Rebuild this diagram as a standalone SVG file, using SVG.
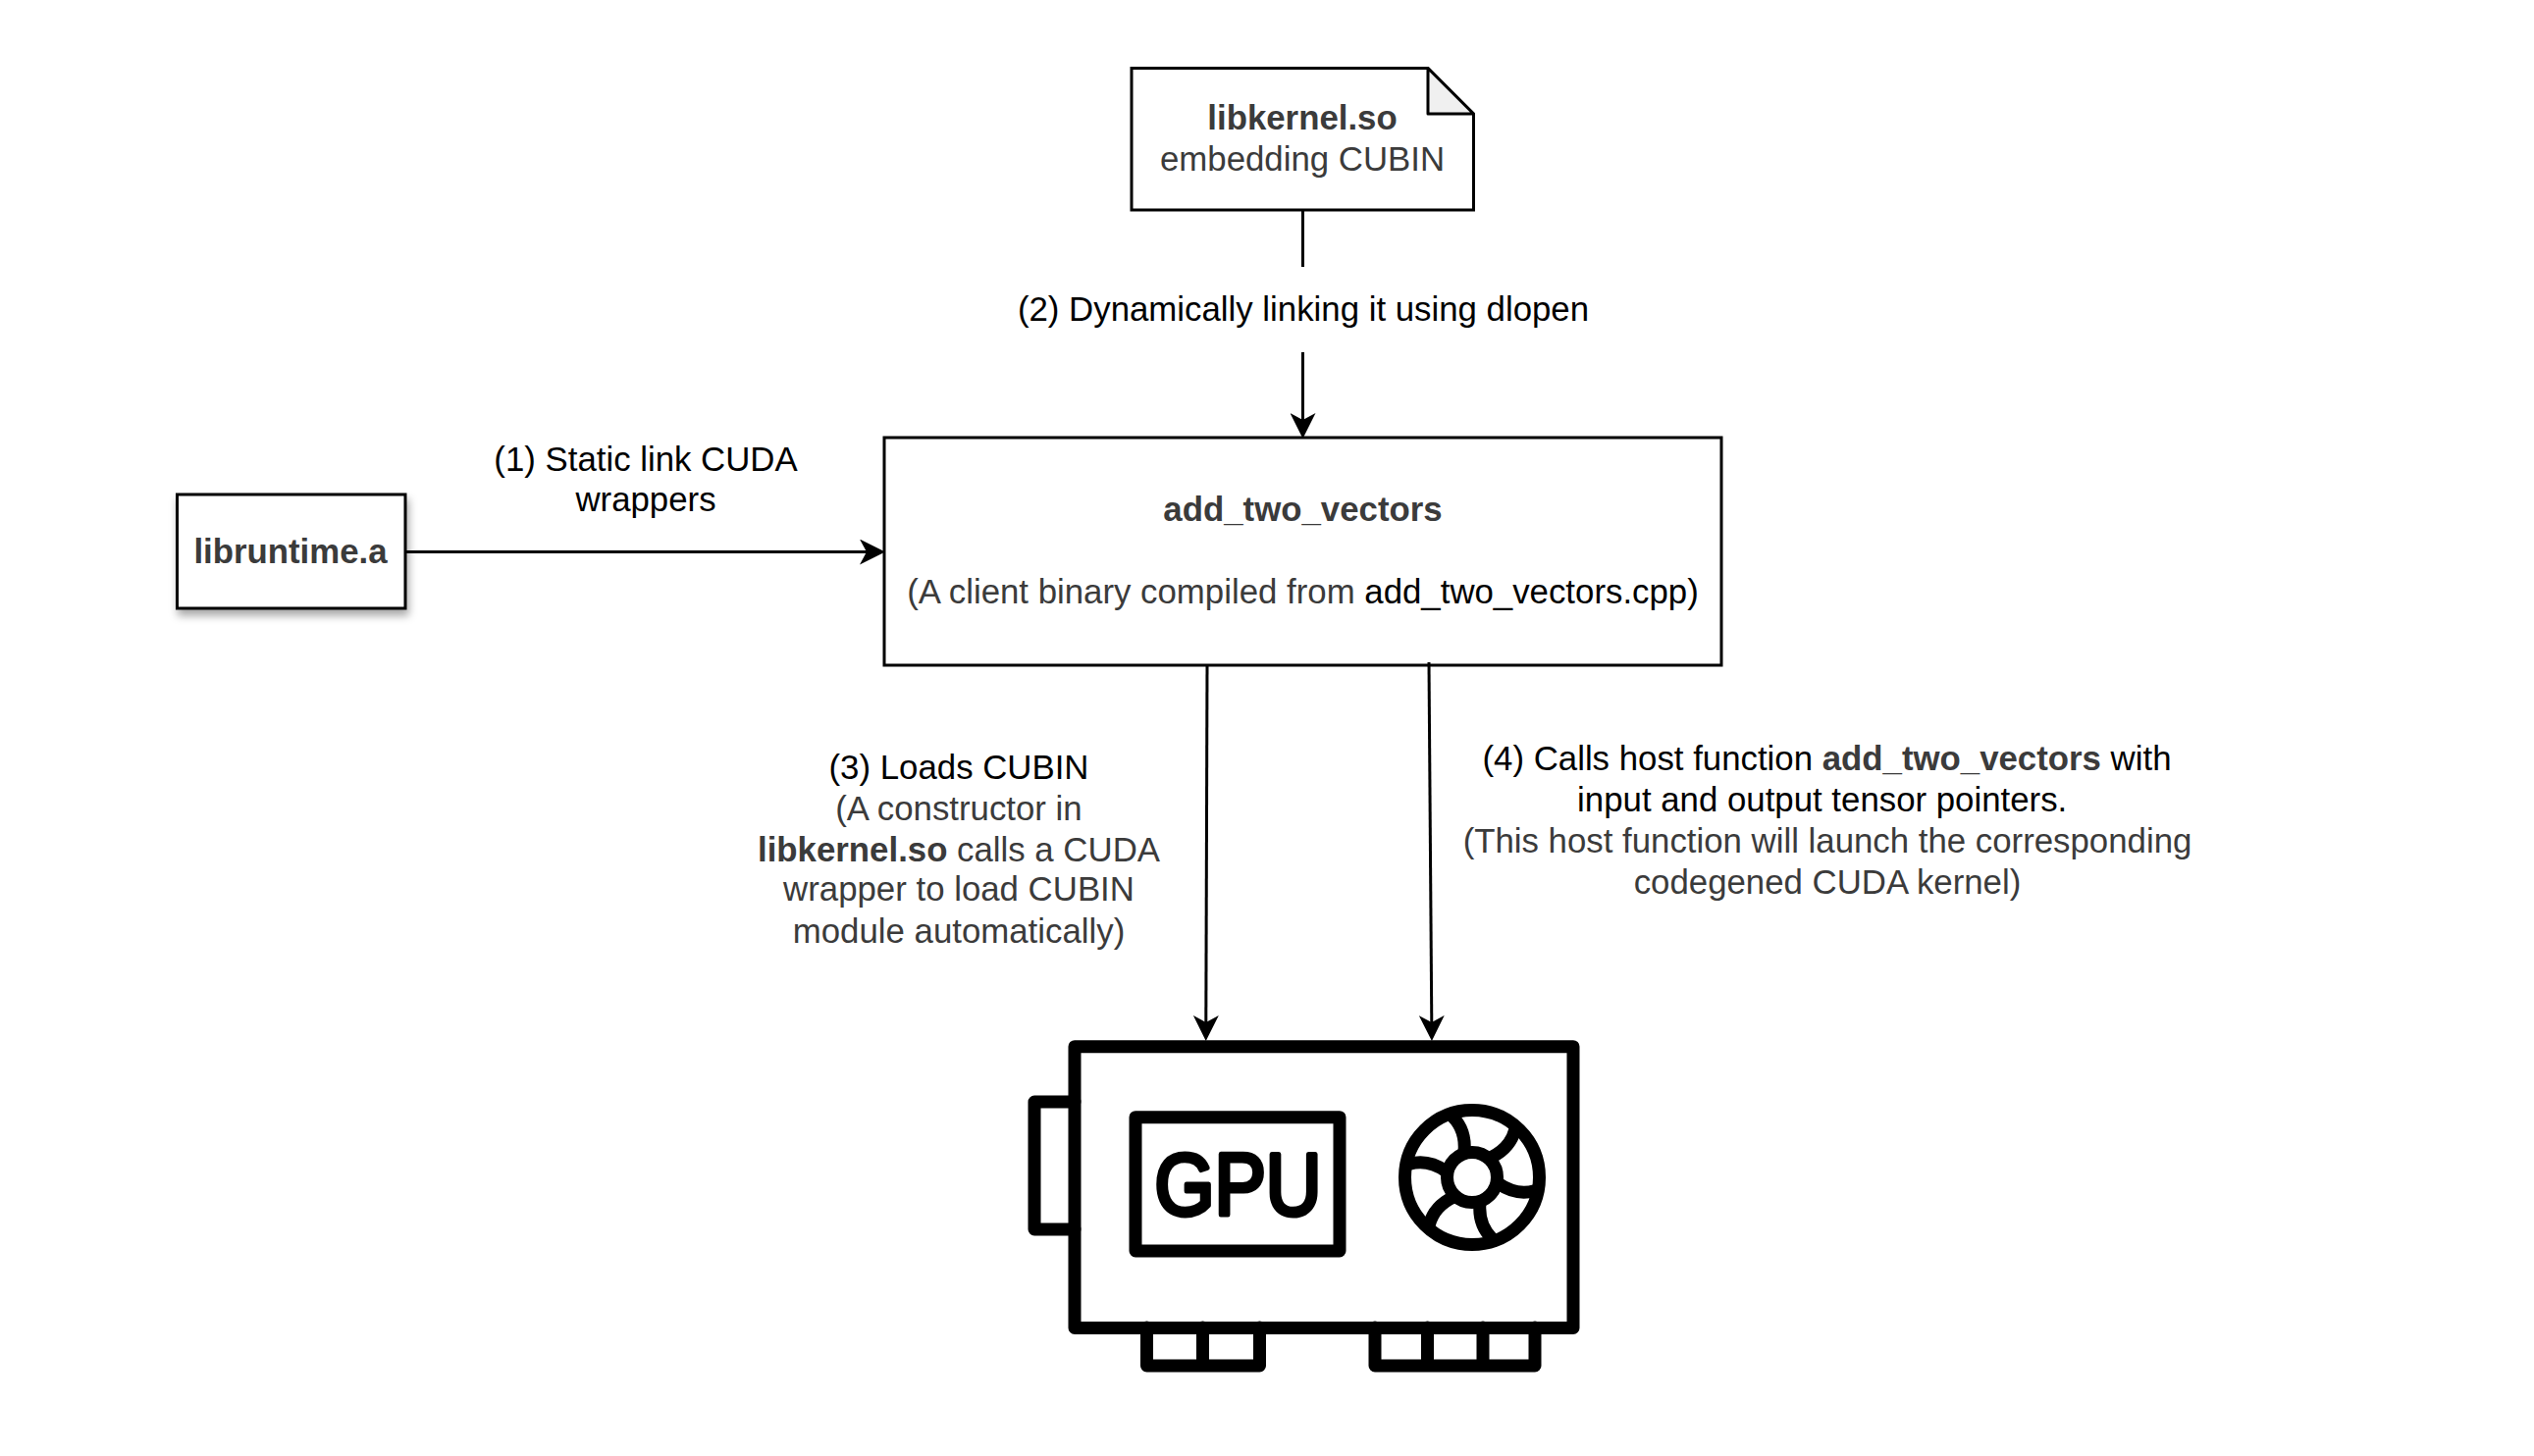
<svg xmlns="http://www.w3.org/2000/svg" xmlns:xlink="http://www.w3.org/1999/xlink" width="2582" height="1484" viewBox="0 0 2582 1484">
<style>
text{font-family:"Liberation Sans",Arial,sans-serif;font-size:34.8px;text-anchor:middle}
.d{fill:#3b3b3b}.k{fill:#000}.b{font-weight:700}
.box{fill:#fff;stroke:#000;stroke-width:3}
.cn{fill:none;stroke:#000;stroke-width:3;marker-end:url(#ah)}
.ln{fill:none;stroke:#000;stroke-width:3}
.ic{fill:none;stroke:#000;stroke-width:13;stroke-linejoin:round;stroke-linecap:round}
</style>
<defs>
<marker id="ah" markerUnits="userSpaceOnUse" markerWidth="26" markerHeight="26" viewBox="0 0 26 26" refX="7" refY="13" orient="auto"><path d="M0 0L26 13L0 26L7 13Z" fill="#000"/></marker>
<filter id="sh" x="-20%" y="-20%" width="140%" height="150%"><feDropShadow dx="2" dy="6" stdDeviation="4" flood-color="#000" flood-opacity="0.35"/></filter>
<path id="blade" d="M-20 -62Q-6 -48 -8 -26"/>
</defs>
<rect width="2582" height="1484" fill="#fff"/>
<g id="libkernel">
<path class="box" d="M1153 69.5H1455L1501.5 116V214H1153Z"/>
<path d="M1455 69.5V116H1501.5Z" fill="#f0f0f0" stroke="#000" stroke-width="3" stroke-linejoin="round"/>
<text x="1327" y="132" class="d b">libkernel.so</text>
<text x="1327" y="173.5" class="d">embedding CUBIN</text>
</g>
<g id="label2"><text x="1328" y="327" class="k">(2) Dynamically linking it using dlopen</text></g>
<g id="label1"><text x="658" y="480" class="k">(1) Static link CUDA</text><text x="658" y="521" class="k">wrappers</text></g>
<g id="libruntime">
<rect class="box" x="180.5" y="504" width="232.5" height="116" filter="url(#sh)"/>
<text x="296" y="573.5" class="d b">libruntime.a</text>
</g>
<g id="add_two_vectors">
<rect class="box" x="901" y="446" width="853" height="232"/>
<text x="1327.5" y="531" class="d b">add_two_vectors</text>
<text x="1327.5" y="614.5" class="d">(A client binary compiled from <tspan class="k">add_two_vectors.cpp)</tspan></text>
</g>
<g id="label3">
<text x="977" y="794" class="k">(3) Loads CUBIN</text>
<text x="977" y="836" class="d">(A constructor in</text>
<text x="977" y="878" class="d"><tspan class="b">libkernel.so</tspan> calls a CUDA</text>
<text x="977" y="918" class="d">wrapper to load CUBIN</text>
<text x="977" y="961" class="d">module automatically)</text>
</g>
<g id="label4">
<text x="1861.5" y="785" class="k">(4) Calls host function <tspan class="d b">add_two_vectors</tspan> with</text>
<text x="1861.5" y="827" class="k" xml:space="preserve">input and output tensor pointers. </text>
<text x="1862" y="869" class="d">(This host function will launch the corresponding</text>
<text x="1862" y="911" class="d">codegened CUDA kernel)</text>
</g>
<g id="gpu">
<path class="ic" d="M1095 1123H1054V1253H1095"/>
<path class="ic" d="M1168.5 1353V1392H1283.5V1353M1225.5 1353V1392"/>
<path class="ic" d="M1401 1353V1392H1564V1353M1454.5 1353V1392M1511 1353V1392"/>
<rect class="ic" x="1095" y="1066.7" width="508" height="286.8"/>
<rect class="ic" x="1157" y="1138.7" width="208" height="136.3"/>
<text x="1261.5" y="1238" textLength="170" lengthAdjust="spacingAndGlyphs" style="font-size:89px;fill:#000;stroke:#000;stroke-width:5;stroke-linejoin:round">GPU</text>
<g class="ic" transform="translate(1500 1200)">
<circle r="68.5"/><circle r="25.5"/>
<use xlink:href="#blade" href="#blade"/>
<use xlink:href="#blade" href="#blade" transform="rotate(60)"/>
<use xlink:href="#blade" href="#blade" transform="rotate(120)"/>
<use xlink:href="#blade" href="#blade" transform="rotate(180)"/>
<use xlink:href="#blade" href="#blade" transform="rotate(240)"/>
<use xlink:href="#blade" href="#blade" transform="rotate(300)"/>
</g>
</g>
<g id="connectors">
<path class="ln" d="M1327.5 214V272"/>
<path class="cn" d="M1327.5 359V428"/>
<path class="cn" d="M413 562.5H883"/>
<path class="cn" d="M1230 678L1228.8 1042"/>
<path class="cn" d="M1456 675L1458.8 1042"/>
</g>
</svg>
